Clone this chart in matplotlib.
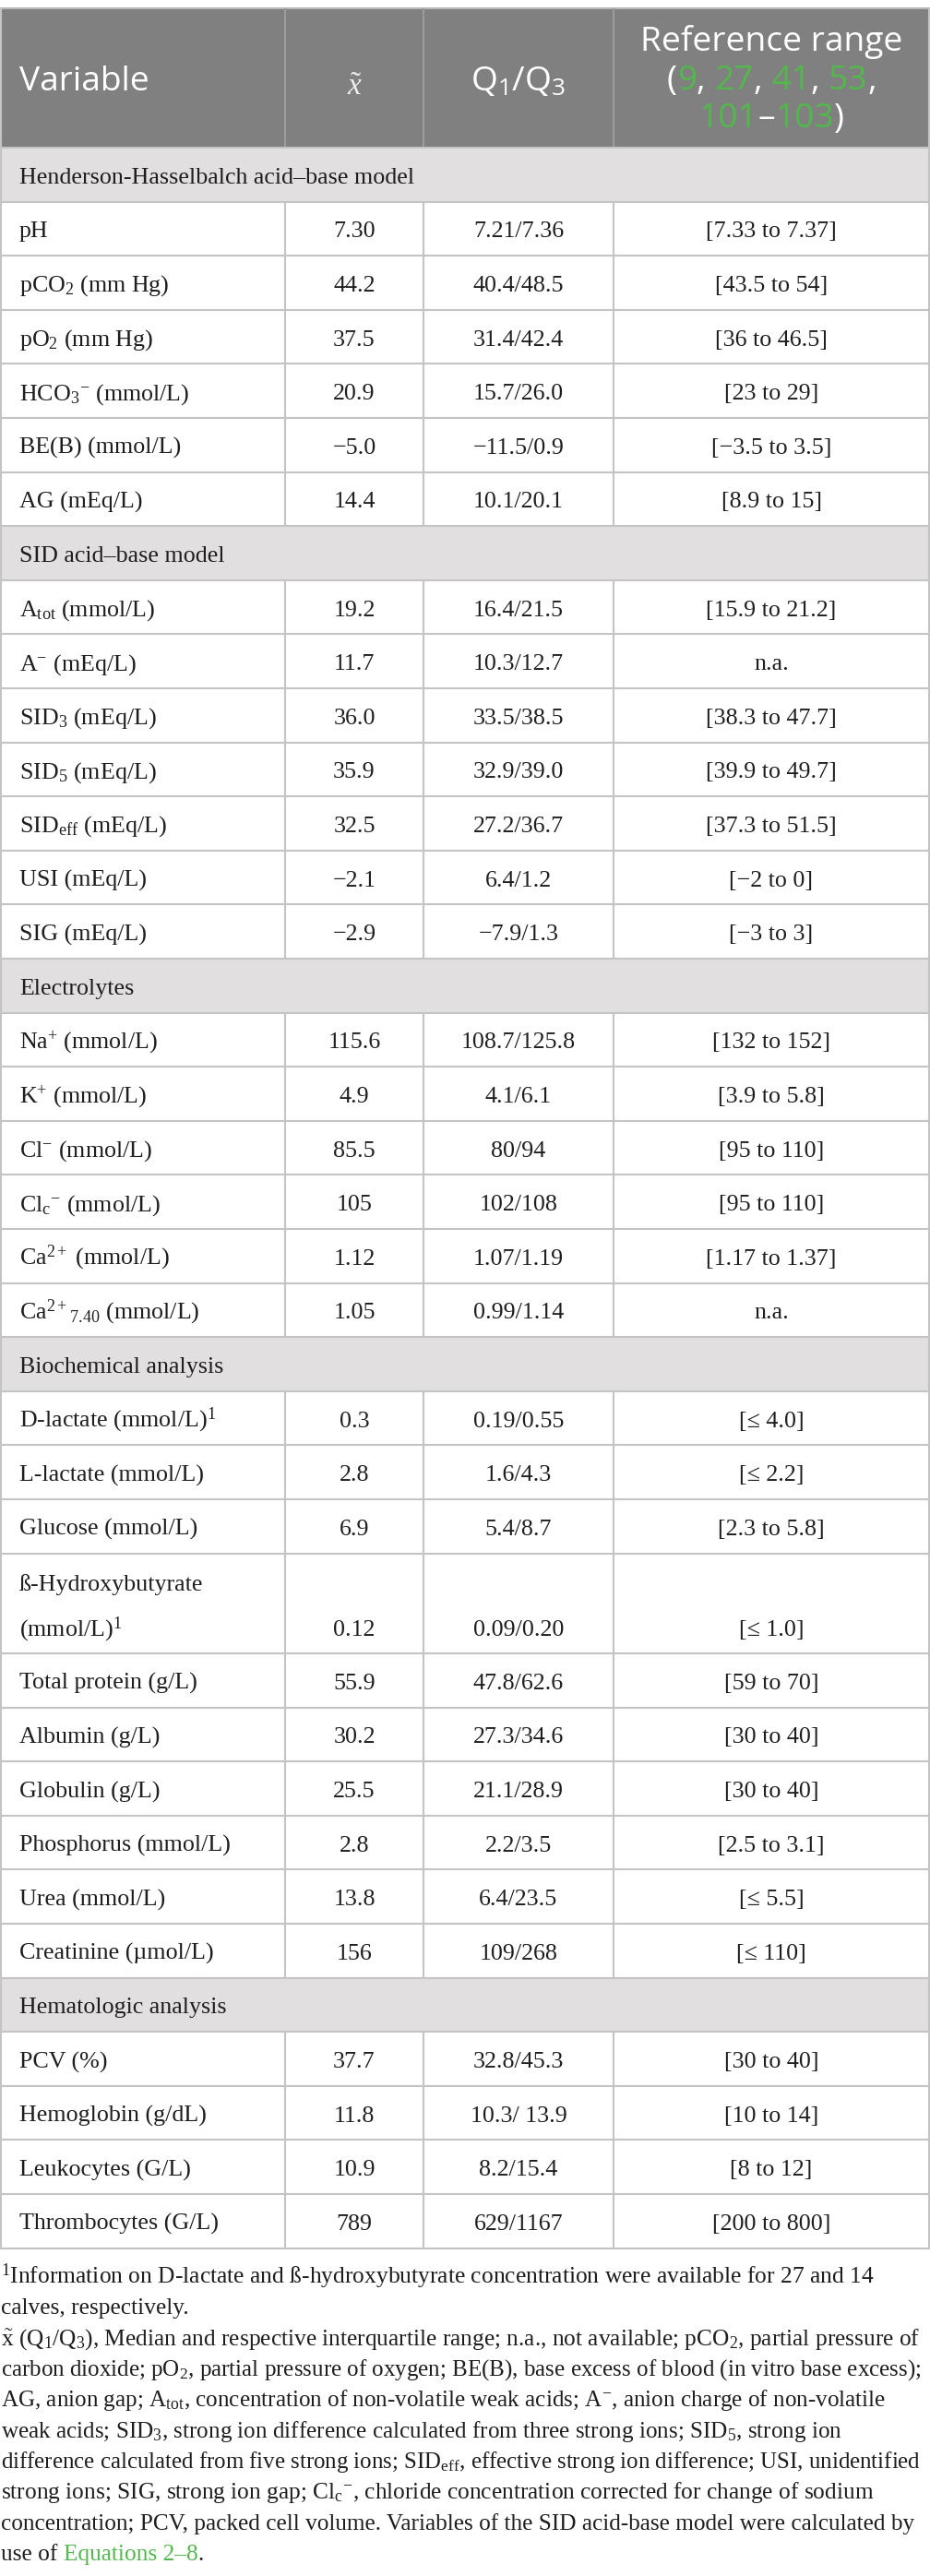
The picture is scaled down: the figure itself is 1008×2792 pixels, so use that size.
import matplotlib
matplotlib.use("Agg")
import matplotlib.pyplot as plt
from matplotlib.patches import Rectangle

plt.rcParams['mathtext.fontset'] = 'custom'
plt.rcParams['mathtext.rm'] = 'Liberation Serif'
plt.rcParams['mathtext.it'] = 'Liberation Serif:italic'
plt.rcParams['mathtext.bf'] = 'Liberation Serif:bold'
plt.rcParams['mathtext.sf'] = 'Open Sans'

# ---------------- data ----------------
section_names = [
    "Henderson-Hasselbalch acid\u2013base model",
    "SID acid\u2013base model",
    "Electrolytes",
    "Biochemical analysis",
    "Hematologic analysis",
]
variables = [
    ["pH", "pCO$_2$ (mm Hg)", "pO$_2$ (mm Hg)", "HCO$_3$$^{-}$ (mmol/L)",
     "BE(B) (mmol/L)", "AG (mEq/L)"],
    ["A$_{\\mathrm{tot}}$ (mmol/L)", "A$^{-}$ (mEq/L)", "SID$_3$ (mEq/L)",
     "SID$_5$ (mEq/L)", "SID$_{\\mathrm{eff}}$ (mEq/L)", "USI (mEq/L)", "SIG (mEq/L)"],
    ["Na$^{+}$ (mmol/L)", "K$^{+}$ (mmol/L)", "Cl$^{-}$ (mmol/L)",
     "Cl$_{\\mathrm{c}}$$^{-}$ (mmol/L)", "Ca$^{2+}$ (mmol/L)", "Ca$^{2+}$$_{7.40}$ (mmol/L)"],
    ["D-lactate (mmol/L)$^1$", "L-lactate (mmol/L)", "Glucose (mmol/L)",
     "\u00df-Hydroxybutyrate\n(mmol/L)$^1$", "Total protein (g/L)", "Albumin (g/L)",
     "Globulin (g/L)", "Phosphorus (mmol/L)", "Urea (mmol/L)", "Creatinine (\u00b5mol/L)"],
    ["PCV (%)", "Hemoglobin (g/dL)", "Leukocytes (G/L)", "Thrombocytes (G/L)"],
]
medians = [
    ["7.30", "44.2", "37.5", "20.9", "\u22125.0", "14.4"],
    ["19.2", "11.7", "36.0", "35.9", "32.5", "\u22122.1", "\u22122.9"],
    ["115.6", "4.9", "85.5", "105", "1.12", "1.05"],
    ["0.3", "2.8", "6.9", "0.12", "55.9", "30.2", "25.5", "2.8", "13.8", "156"],
    ["37.7", "11.8", "10.9", "789"],
]
quartiles = [
    ["7.21/7.36", "40.4/48.5", "31.4/42.4", "15.7/26.0", "\u221211.5/0.9", "10.1/20.1"],
    ["16.4/21.5", "10.3/12.7", "33.5/38.5", "32.9/39.0", "27.2/36.7", "6.4/1.2", "\u22127.9/1.3"],
    ["108.7/125.8", "4.1/6.1", "80/94", "102/108", "1.07/1.19", "0.99/1.14"],
    ["0.19/0.55", "1.6/4.3", "5.4/8.7", "0.09/0.20", "47.8/62.6", "27.3/34.6",
     "21.1/28.9", "2.2/3.5", "6.4/23.5", "109/268"],
    ["32.8/45.3", "10.3/ 13.9", "8.2/15.4", "629/1167"],
]
ref_ranges = [
    ["[7.33 to 7.37]", "[43.5 to 54]", "[36 to 46.5]", "[23 to 29]",
     "[\u22123.5 to 3.5]", "[8.9 to 15]"],
    ["[15.9 to 21.2]", "n.a.", "[38.3 to 47.7]", "[39.9 to 49.7]",
     "[37.3 to 51.5]", "[\u22122 to 0]", "[\u22123 to 3]"],
    ["[132 to 152]", "[3.9 to 5.8]", "[95 to 110]", "[95 to 110]",
     "[1.17 to 1.37]", "n.a."],
    ["[\u2264 4.0]", "[\u2264 2.2]", "[2.3 to 5.8]", "[\u2264 1.0]", "[59 to 70]",
     "[30 to 40]", "[30 to 40]", "[2.5 to 3.1]", "[\u2264 5.5]", "[\u2264 110]"],
    ["[30 to 40]", "[10 to 14]", "[8 to 12]", "[200 to 800]"],
]
header_cols = ["Variable", "$\\tilde{x}$", "Q$_{\\mathsf{1}}$/Q$_{\\mathsf{3}}$"]
header_ref = [
    [("Reference range", "w")],
    [("(", "w"), ("9", "g"), (", ", "w"), ("27", "g"), (", ", "w"), ("41", "g"),
     (", ", "w"), ("53", "g"), (",", "w")],
    [("101", "g"), ("\u2013", "w"), ("103", "g"), (")", "w")],
]
footnotes = [
    [("$^{1}$Information on D-lactate and \u00df-hydroxybutyrate concentration were available for 27 and 14", "k")],
    [("calves, respectively.", "k")],
    [("$\\tilde{\\mathrm{x}}$ (Q$_1$/Q$_3$), Median and respective interquartile range; n.a., not available; pCO$_2$, partial pressure of", "k")],
    [("carbon dioxide; pO$_2$, partial pressure of oxygen; BE(B), base excess of blood (in vitro base excess);", "k")],
    [("AG, anion gap; A$_{\\mathrm{tot}}$, concentration of non-volatile weak acids; A$^{-}$, anion charge of non-volatile", "k")],
    [("weak acids; SID$_3$, strong ion difference calculated from three strong ions; SID$_5$, strong ion", "k")],
    [("difference calculated from five strong ions; SID$_{\\mathrm{eff}}$, effective strong ion difference; USI, unidentified", "k")],
    [("strong ions; SIG, strong ion gap; Cl$_{\\mathrm{c}}$$^{-}$, chloride concentration corrected for change of sodium", "k")],
    [("concentration; PCV, packed cell volume. Variables of the SID acid-base model were calculated by", "k")],
    [("use of ", "k"), ("Equations 2\u20138", "g"), (".", "k")],
]
# right end (px) of each footnote line in the reference; None = short last line
footnote_ends = [944, None, 993, 995, 958, 908, 995, 943, 987, None]

# ---------------- style ----------------
W, H = 1008, 2792
HEAD_BG = "#808080"
SEC_BG = "#e1dfe0"
GRID = "#c4c4c4"
HEAD_GRID = "#9c9c9c"
GREEN = "#52b84c"
TXT = "#1e1e1e"
colmap = {"w": "white", "g": GREEN, "k": TXT}
col_x = [0, 309, 459, 665, 1007]
ROW_H = 58.6
DBL_H = 108.5
HEAD_TOP, HEAD_BOT = 9, 160
BODY_FS = 18.7
SERIF = "Liberation Serif"
SANS = "Open Sans"

fig = plt.figure(figsize=(W / 100, H / 100), dpi=100)
ax = fig.add_axes([0, 0, 1, 1])
ax.set_xlim(0, W)
ax.set_ylim(H, 0)
ax.axis("off")
renderer = fig.canvas.get_renderer()


def text_width(s, **kw):
    t = ax.text(0, 0, s, **kw)
    w = t.get_window_extent(renderer).width
    t.remove()
    return w


def seg_text(x, y, segs, ha="left", **kw):
    full = "".join(s for s, _ in segs)
    total = text_width(full, **kw)
    ref = text_width("I", **kw)
    start = x - total / 2 if ha == "center" else x
    prefix = ""
    for s, c in segs:
        off = 0 if prefix == "" else text_width(prefix + "I", **kw) - ref
        ax.text(start + off, y, s, color=colmap[c], ha="left", va="baseline", **kw)
        prefix += s


def hline(y, x0=0, x1=W, color=GRID, lw=1.5):
    ax.plot([x0, x1], [y, y], color=color, lw=lw, solid_capstyle="butt", zorder=3)


def vline(x, y0, y1, color=GRID, lw=1.5):
    ax.plot([x, x], [y0, y1], color=color, lw=lw, solid_capstyle="butt", zorder=3)


# calibrate header font size to the reference width of "Reference range" (~283 px)
HEAD_FS = 20.0 * 283.0 / text_width("Reference range", fontsize=20.0, family=SANS)
# footnote base size from first line (~943 px wide)
FOOT_FS = 18.4 * 943.0 / text_width(footnotes[0][0][0], fontsize=18.4, family=SERIF)

# ---------------- header ----------------
ax.add_patch(Rectangle((0, HEAD_TOP), W, HEAD_BOT - HEAD_TOP, facecolor=HEAD_BG,
                       edgecolor="none", zorder=1))
hline(HEAD_TOP, color="#b8b8b8")
for cx in col_x[1:4]:
    vline(cx, HEAD_TOP, HEAD_BOT, color=HEAD_GRID)
ax.text(21, 98, header_cols[0], fontsize=HEAD_FS, family=SANS, color="white",
        ha="left", va="baseline")
ax.text((col_x[1] + col_x[2]) / 2, 103, header_cols[1], fontsize=24, family=SERIF,
        color="#eeeeee", ha="center", va="baseline")
ax.text((col_x[2] + col_x[3]) / 2, 98, header_cols[2], fontsize=HEAD_FS, family=SANS,
        color="white", ha="center", va="baseline")
ref_cx = (col_x[3] + W) / 2
for i, segs in enumerate(header_ref):
    seg_text(ref_cx, 55 + 41.6 * i, segs, ha="center", fontsize=HEAD_FS, family=SANS)

# ---------------- body ----------------
y = HEAD_BOT
hline(y)
for si, name in enumerate(section_names):
    ax.add_patch(Rectangle((0, y), W, ROW_H, facecolor=SEC_BG, edgecolor="none", zorder=1))
    ax.text(21, y + ROW_H / 2 + 9.5, name, fontsize=BODY_FS, family=SERIF, color=TXT,
            ha="left", va="baseline")
    y += ROW_H
    hline(y)
    for ri, var in enumerate(variables[si]):
        lines = var.split("\n")
        h = ROW_H if len(lines) == 1 else DBL_H
        if len(lines) == 1:
            base = y + h / 2 + 9.5
            ax.text(21, base, var, fontsize=BODY_FS, family=SERIF, color=TXT,
                    ha="left", va="baseline")
        else:
            for li, ln in enumerate(lines):
                ax.text(21, y + 40.5 + 49 * li, ln, fontsize=BODY_FS, family=SERIF,
                        color=TXT, ha="left", va="baseline")
            base = y + 40.5 + 49 * (len(lines) - 1)
        for ci, val in enumerate([medians[si][ri], quartiles[si][ri], ref_ranges[si][ri]]):
            cx = (col_x[ci + 1] + col_x[ci + 2]) / 2
            ax.text(cx, base, val, fontsize=BODY_FS, family=SERIF, color=TXT,
                    ha="center", va="baseline")
        for cx in col_x[1:4]:
            vline(cx, y, y + h)
        y += h
        hline(y)
table_bottom = y
vline(0.75, HEAD_TOP, table_bottom)
vline(col_x[4], HEAD_TOP, table_bottom)

# ---------------- footnotes ----------------
for i, segs in enumerate(footnotes):
    fs = FOOT_FS
    end = footnote_ends[i]
    if end is not None:
        full = "".join(s for s, _ in segs)
        fs = FOOT_FS * (end - 1) / text_width(full, fontsize=FOOT_FS, family=SERIF)
    seg_text(1, 2475 + 33.35 * i, segs, ha="left", fontsize=fs, family=SERIF)

fig.savefig("out.png", dpi=100, facecolor="white")
